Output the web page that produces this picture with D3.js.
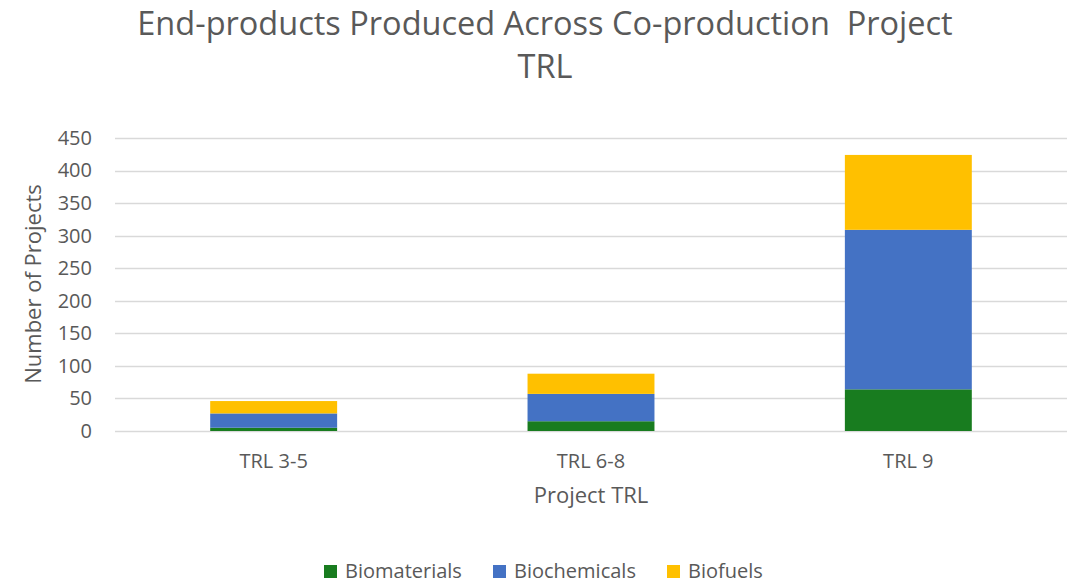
<!DOCTYPE html>
<html>
<head>
<meta charset="utf-8">
<script src="https://cdn.jsdelivr.net/npm/d3@7"></script>
<style>
  body { margin: 0; background: #fff; }
  text { font-family: "Open Sans", sans-serif; fill: #595959; }
</style>
</head>
<body>
<div id="chart"></div>
<script>
// chart data
var categories = ['TRL 3-5', 'TRL 6-8', 'TRL 9'];
var seriesNames = ['Biomaterials', 'Biochemicals', 'Biofuels'];
var biomaterials = [5, 15, 64];
var biochemicals = [22, 42, 245];
var biofuels = [19, 31, 115];
var yTicks = [0, 50, 100, 150, 200, 250, 300, 350, 400, 450];
var colors = ['#187c1f', '#4472c4', '#ffc000'];

var width = 1074, height = 583;
var margin = { left: 115, right: 7, top: 138, bottom: 152 };
var plotW = width - margin.left - margin.right,
	plotH = height - margin.top - margin.bottom;

// build rows for the stack layout
var rows = categories.map(function (c, i) {
	return { cat: c, Biomaterials: biomaterials[i], Biochemicals: biochemicals[i], Biofuels: biofuels[i] };
});
var stacked = d3.stack().keys(seriesNames)(rows);

var svg = d3.select('#chart').append('svg')
	.attr('width', width)
	.attr('height', height);

var x = d3.scaleBand()
	.domain(categories)
	.range([0, plotW])
	.paddingInner(0.6)
	.paddingOuter(0.3);

var y = d3.scaleLinear()
	.domain([0, 450])
	.range([plotH, 0]);

var g = svg.append('g')
	.attr('transform', 'translate(' + margin.left + ',' + margin.top + ')');

// gridlines
g.append('g')
	.selectAll('line')
	.data(yTicks)
	.enter().append('line')
	.attr('x1', 0)
	.attr('x2', plotW)
	.attr('y1', function (d) { return Math.round(y(d)) + 0.5; })
	.attr('y2', function (d) { return Math.round(y(d)) + 0.5; })
	.attr('stroke', '#d9d9d9')
	.attr('stroke-width', 1.3);

// bars
g.append('g')
	.selectAll('g')
	.data(stacked)
	.enter().append('g')
	.attr('fill', function (d, i) { return colors[i]; })
	.selectAll('rect')
	.data(function (d) { return d; })
	.enter().append('rect')
	.attr('x', function (d) { return x(d.data.cat); })
	.attr('width', x.bandwidth())
	.attr('y', function (d) { return y(d[1]); })
	.attr('height', function (d) { return y(d[0]) - y(d[1]); });

// y axis labels
var yAxis = d3.axisLeft(y).tickValues(yTicks).tickSize(0).tickPadding(23);
g.append('g')
	.call(yAxis)
	.call(function (s) { s.select('.domain').remove(); })
	.selectAll('text')
	.style('font-size', '20px')
	.style('font-family', '"Open Sans", sans-serif')
	.attr('fill', '#595959');

// x axis labels
var xAxis = d3.axisBottom(x).tickSize(0).tickPadding(23);
g.append('g')
	.attr('transform', 'translate(0,' + plotH + ')')
	.call(xAxis)
	.call(function (s) { s.select('.domain').remove(); })
	.selectAll('text')
	.style('font-size', '20px')
	.style('font-family', '"Open Sans", sans-serif')
	.attr('fill', '#595959');

// title
var title = svg.append('text')
	.attr('text-anchor', 'middle')
	.style('font-size', '32.5px')
	.style('white-space', 'pre');
title.append('tspan').attr('x', 545).attr('y', 35).text('End-products Produced Across Co-production  Project');
title.append('tspan').attr('x', 545).attr('y', 78).text('TRL');

// axis titles
svg.append('text')
	.attr('text-anchor', 'middle')
	.attr('transform', 'translate(41,284) rotate(-90)')
	.style('font-size', '22px')
	.text('Number of Projects');

svg.append('text')
	.attr('text-anchor', 'middle')
	.attr('x', margin.left + plotW / 2)
	.attr('y', 503)
	.style('font-size', '22px')
	.text('Project TRL');

// legend
var legendX = [324, 493, 667];
var legend = svg.append('g').selectAll('g')
	.data(seriesNames)
	.enter().append('g')
	.attr('transform', function (d, i) { return 'translate(' + legendX[i] + ',565)'; });
legend.append('rect')
	.attr('width', 13)
	.attr('height', 13)
	.attr('fill', function (d, i) { return colors[i]; });
legend.append('text')
	.attr('x', 21)
	.attr('y', 12.5)
	.style('font-size', '20px')
	.text(function (d) { return d; });
</script>
</body>
</html>
